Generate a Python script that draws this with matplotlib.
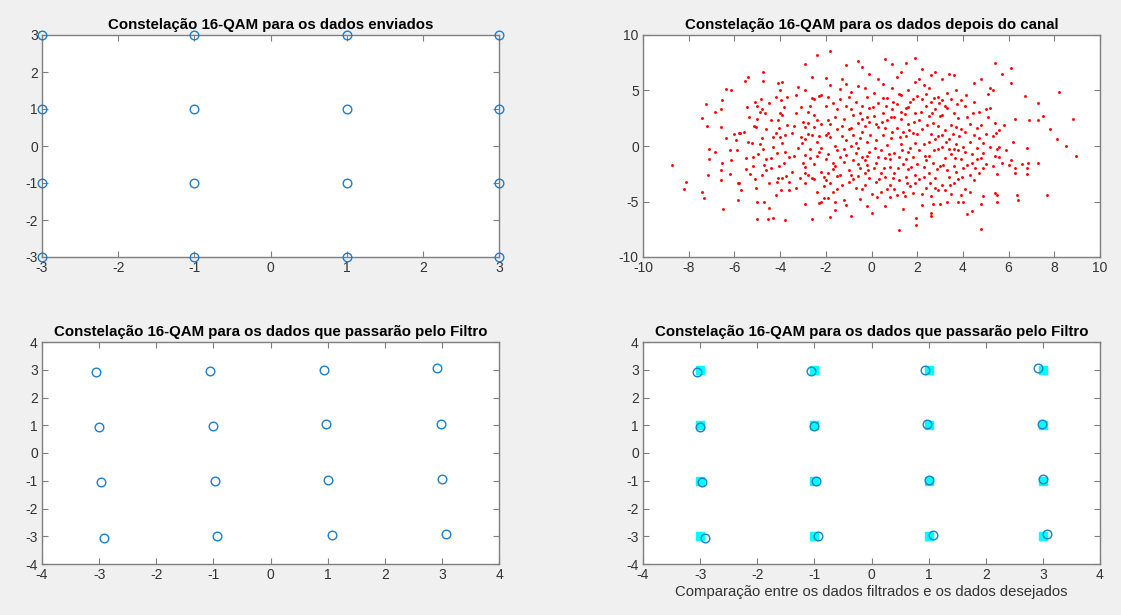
import matplotlib
matplotlib.use("Agg")
import matplotlib.pyplot as plt
import numpy as np

plt.rcParams['font.family'] = ['Liberation Sans', 'DejaVu Sans']
plt.rcParams['axes.unicode_minus'] = False

# ---------------- data ----------------
ideal_x = [-3, -3, -3, -3, -1, -1, -1, -1, 1, 1, 1, 1, 3, 3, 3, 3]
ideal_y = [-3, -1, 1, 3, -3, -1, 1, 3, -3, -1, 1, 3, -3, -1, 1, 3]

filt_x = [-3.06, -1.06, 0.93, 2.92, -3.01, -1.01, 0.98, 2.98,
          -2.97, -0.98, 1.01, 3.01, -2.92, -0.93, 1.07, 3.07]
filt_y = [2.93, 2.96, 3.00, 3.08, 0.92, 0.99, 1.03, 1.06,
          -1.06, -1.02, -0.99, -0.92, -3.07, -3.00, -2.97, -2.93]

channel_pts = [
    (-8.75, -1.7), (-8.1, -3.2), (-8.2, -3.9), (-7.4, -4.1), (-7.35, -4.7), (-7.4, 2.5), (-7.25, 3.8),
    (-7.2, 1.8), (-7.1, -0.3), (-7.1, -1.2), (-7.15, -2.6), (-6.85, 3.1), (-6.85, -0.5), (-6.6, 1.7),
    (-6.6, 3.3), (-6.55, 4.1), (-6.55, -1.5), (-6.6, -2.2), (-6.6, -3.1), (-6.5, -5.7), (-6.35, 5.1),
    (-6.35, 0.7), (-6.15, 5.0), (-6.2, -0.4), (-6.15, -1.3), (-6.2, -2.5), (-6.0, 1.1), (-5.95, 0.5),
    (-5.9, -0.4), (-5.85, -3.3), (-5.8, -3.3), (-5.8, 1.2), (-5.75, 1.2), (-5.85, -4.9), (-5.7, -4.0),
    (-5.55, 5.9), (-5.5, -2.1), (-5.45, 3.5), (-5.4, 6.2), (-5.35, 2.6), (-5.3, -2.5), (-5.25, 0.3),
    (-5.2, -1.8), (-5.15, 1.8), (-5.1, -3.0), (-5.1, 4.0), (-5.05, 1.7), (-5.05, -3.8), (-5.0, -5.0),
    (-5.0, -6.6), (-5.0, 2.4), (-4.95, -0.7), (-4.9, 3.1), (-4.85, 4.2), (-4.8, 3.3), (-4.8, 0.7),
    (-4.75, 6.7), (-4.75, 5.9), (-4.7, -1.7), (-4.7, -5.0), (-4.65, 3.0), (-4.6, -1.2), (-4.6, -2.2),
    (-4.55, -6.6), (-4.5, 3.9), (-4.5, -5.6), (-4.4, 2.3), (-4.3, -0.1), (-4.3, -6.5), (-4.2, -4.4),
    (-4.1, 5.7), (-4.0, 5.0), (-3.95, 4.1), (-3.9, 5.8), (-3.8, -6.7), (-3.5, -2.3),
    (-4.4, -2.0), (-4.2, 1.2), (-4.1, -2.9), (-4.0, 3.0), (-4.2, 4.4), (-4.3, 0.8), (-4.5, -3.3),
    (-4.6, 1.5), (-4.8, -2.6), (-4.9, 0.2), (-5.2, -1.0), (-5.4, 0.4), (-5.6, 1.3), (-5.5, -1.1),
    (-4.4, -1.1), (-4.15, -0.6), (-4.05, 1.6), (-5.0, 3.6), (-4.75, -0.3),
    (-3.85, 3.5), (-3.9, 2.8), (-3.7, 1.9), (-3.8, 1.0), (-3.9, 0.3), (-3.8, -0.5), (-3.85, -1.5),
    (-3.75, -2.7), (-3.6, -3.2), (-3.6, -4.0), (-3.4, -0.9), (-3.4, 1.8), (-3.3, 4.6), (-3.2, 5.3),
    (-3.15, -2.9), (-3.1, 0.8), (-3.05, 0.3), (-3.0, -1.5), (-3.1, 3.5), (-3.0, 2.2), (-3.3, -3.8),
    (-3.5, 1.2), (-3.6, -1.0), (-3.2, -0.2), (-3.9, -2.9), (-3.7, 4.4), (-4.0, 0.8), (-4.05, -1.8),
    (-4.1, 2.3), (-4.15, -3.2), (-3.95, -4.0), (-3.3, 3.0),
    (-2.9, 7.4), (-2.9, 5.0), (-2.8, 3.1), (-2.8, 1.1), (-2.9, 0.6), (-2.7, -0.3), (-2.9, -1.9),
    (-2.8, -2.6), (-2.9, -3.3), (-2.9, -5.2), (-2.6, -6.6), (-2.6, 6.2), (-2.5, 4.2), (-2.5, 2.8),
    (-2.5, 1.7), (-2.4, 0.4), (-2.4, -0.9), (-2.5, -1.6), (-2.5, -3.0), (-2.4, -4.1), (-2.3, -5.1),
    (-2.4, 8.2), (-2.3, 4.5), (-2.2, 2.0), (-2.2, -0.2), (-2.2, -2.3), (-2.1, -3.6), (-2.1, -4.7),
    (-2.0, 6.1), (-2.0, 3.6), (-2.0, 1.0), (-2.0, -1.2), (-2.1, -2.8), (-2.6, 1.0), (-2.7, -1.1),
    (-2.3, -0.5), (-2.9, -0.8), (-2.6, -2.9), (-2.3, 0.9), (-2.7, 3.6), (-2.8, 2.1), (-2.2, 4.6),
    (-2.4, 2.3), (-2.9, -2.4), (-2.2, -5.0), (-2.0, -3.1), (-2.9, 1.7), (-2.6, 4.3),
    (-1.8, 8.6), (-1.9, 4.4), (-1.8, 2.0), (-1.8, 0.8), (-1.7, -1.5), (-1.7, -2.1), (-1.8, -3.3),
    (-1.8, -6.4), (-1.6, -5.0), (-1.6, -5.8), (-1.6, 2.6), (-1.5, 3.3), (-1.5, 1.5), (-1.5, -0.4),
    (-1.4, -2.6), (-1.4, 4.2), (-1.3, 6.0), (-1.3, 1.8), (-1.2, -0.3), (-1.2, -1.4), (-1.2, -4.9),
    (-1.1, 7.3), (-1.1, 5.6), (-1.1, 3.6), (-1.1, 0.5), (-1.0, -2.2), (-1.0, -3.2), (-1.9, -0.7),
    (-1.9, 2.3), (-1.7, -4.1), (-1.6, 0.0), (-1.4, -1.0), (-1.3, -3.5), (-1.2, 2.4), (-1.9, 1.2),
    (-1.5, -2.7), (-1.7, 3.9), (-1.1, -0.8), (-1.3, 0.9), (-1.6, -1.8), (-1.9, -2.4), (-1.0, 1.5),
    (-1.0, 4.4), (-1.4, 5.1), (-1.8, 5.5), (-1.5, -3.9), (-1.1, -5.3), (-1.9, -4.7),
    (-0.9, -6.3), (-0.9, 4.9), (-0.9, 3.3), (-0.8, 1.0), (-0.8, -1.3), (-0.7, -3.8), (-0.6, 7.7),
    (-0.6, 5.4), (-0.6, 2.1), (-0.6, -0.2), (-0.5, -2.0), (-0.5, -4.8), (-0.4, 7.1), (-0.4, 3.6),
    (-0.4, 1.3), (-0.4, -1.0), (-0.3, -2.4), (-0.3, -3.5), (-0.2, 4.4), (-0.2, 2.6), (-0.2, 0.4),
    (-0.2, -1.7), (-0.2, -5.4), (-0.1, 6.5), (-0.1, -2.9), (0.0, -6.0), (0.0, -4.3), (-0.8, 2.8),
    (-0.7, 0.3), (-0.9, -2.6), (-0.5, 3.0), (-0.3, 1.8), (-0.1, -0.5), (-0.6, -1.6), (-0.8, -3.0),
    (-0.4, -3.9), (-0.1, 2.2), (-0.7, 4.0), (-0.3, 5.2), (-0.9, 0.0), (-0.5, 0.7), (-0.2, -0.9),
    (-0.1, 3.4), (-0.6, -2.7), (-0.9, 1.6), (-0.3, -1.3), (-0.05, 1.0), (-0.4, 2.4), (-0.7, -0.6),
    (-0.15, -2.2),
    (0.1, 4.8), (0.1, 2.7), (0.2, 0.5), (0.2, -1.5), (0.2, -3.2), (0.3, 6.0), (0.3, 3.9), (0.3, 1.7),
    (0.4, -0.4), (0.4, -2.4), (0.4, -4.1), (0.5, 5.6), (0.5, 3.0), (0.5, 1.0), (0.6, -1.1), (0.6, -2.8),
    (0.6, 7.8), (0.6, -5.4), (0.7, 4.3), (0.7, 2.3), (0.7, 0.1), (0.8, -1.9), (0.8, -3.5), (0.8, -4.6),
    (0.9, 7.4), (0.9, 5.2), (0.9, 3.3), (0.9, 1.3), (1.0, -0.6), (1.0, -2.4), (1.0, -3.9), (0.15, -0.2),
    (0.3, -1.0), (0.45, 2.2), (0.55, -2.0), (0.65, 3.6), (0.75, -0.7), (0.85, 0.7), (0.95, -2.9),
    (0.2, 2.0), (0.35, -3.0), (0.5, 4.3), (0.7, -3.9), (0.85, 2.6), (0.1, -2.0), (0.95, 4.0),
    (0.25, -4.6), (0.6, 1.6), (0.8, -1.2), (0.05, 3.5),
    (1.1, 6.2), (1.1, 3.8), (1.1, 1.6), (1.2, -1.0), (1.2, -3.1), (1.2, -7.6), (1.3, 6.7), (1.3, 4.6),
    (1.3, 2.4), (1.3, 0.2), (1.4, -1.6), (1.4, -4.1), (1.4, -5.7), (1.5, 7.5), (1.5, 3.4), (1.5, 0.9),
    (1.5, -2.8), (1.6, 5.0), (1.6, 2.0), (1.6, -0.5), (1.6, -2.1), (1.7, -3.6), (1.7, 4.0), (1.8, 1.2),
    (1.8, -1.0), (1.8, -4.2), (1.9, 7.9), (1.9, 5.8), (1.9, 3.0), (1.9, 0.3), (1.9, -2.6), (1.95, -6.5),
    (1.95, -7.1), (2.0, 4.5), (2.0, -1.6), (1.15, -2.0), (1.25, 0.8), (1.35, -0.4), (1.45, 2.9),
    (1.55, -3.3), (1.65, 1.4), (1.75, -1.9), (1.85, 2.2), (1.1, -4.4), (1.45, -4.5), (1.7, -0.2),
    (1.3, 3.1), (1.6, 3.5), (1.9, -3.3), (1.2, 4.7), (1.4, 1.3), (1.8, 4.2), (1.5, -1.2), (1.0, 2.6),
    (2.1, 6.0), (2.1, 2.3), (2.1, -0.4), (2.1, -3.0), (2.2, 6.9), (2.2, 4.2), (2.2, 1.5), (2.2, -4.3),
    (2.3, 0.2), (2.3, -1.9), (2.4, 3.6), (2.4, -3.8), (2.5, 5.2), (2.5, 2.7), (2.5, -0.9), (2.5, -2.4),
    (2.6, 6.4), (2.6, 4.0), (2.6, 1.1), (2.6, -6.3), (2.6, -6.0), (2.7, -1.5), (2.7, -5.2), (2.8, 6.7),
    (2.8, 3.3), (2.8, 0.6), (2.8, -2.9), (2.9, 4.4), (2.9, 1.8), (2.9, -0.3), (2.9, -4.0), (3.0, -5.2),
    (3.0, 2.7), (3.0, -1.8), (2.15, 3.1), (2.35, -0.9), (2.45, 1.9), (2.55, -3.3), (2.65, 3.0),
    (2.75, -0.4), (2.85, -2.1), (2.95, 3.9), (2.3, -2.8), (2.4, 4.7), (2.7, 2.1), (2.2, -5.3),
    (2.6, -4.5), (2.9, 0.9), (2.5, 0.4), (2.0, 1.1), (2.8, -3.8), (2.4, -1.3), (2.3, 5.5), (2.75, 4.3),
    (3.1, 6.0), (3.1, 4.1), (3.1, 2.8), (3.1, -0.1), (3.1, -3.5), (3.2, 1.4), (3.2, -1.1), (3.2, -4.0),
    (3.3, 3.4), (3.3, -2.2), (3.3, -5.0), (3.4, 6.5), (3.4, 0.6), (3.4, -2.8), (3.5, 4.2), (3.5, 1.9),
    (3.5, -0.7), (3.6, 6.4), (3.6, 3.0), (3.6, -1.8), (3.6, -3.3), (3.7, 5.0), (3.7, 0.2), (3.7, -2.3),
    (3.8, 2.5), (3.8, -0.4), (3.8, -5.0), (3.9, 4.1), (3.9, 1.5), (3.9, -1.2), (3.9, -4.4), (4.0, -0.1),
    (4.0, -2.0), (4.0, -5.0), (3.15, -1.7), (3.25, 0.4), (3.45, -3.5), (3.55, 1.1), (3.65, -1.1),
    (3.75, 3.8), (3.85, 0.9), (3.95, -2.8), (3.3, 4.8), (3.5, -4.3), (3.1, 1.0), (3.7, 1.7),
    (3.4, -0.3), (3.8, -3.0), (3.2, 3.6), (3.6, -0.3),
    (4.1, 3.6), (4.1, 1.3), (4.1, -0.5), (4.1, -3.9), (4.2, -6.1), (4.2, -1.7), (4.3, 2.0), (4.3, 0.4),
    (4.3, -2.6), (4.4, -5.9), (4.4, -0.7), (4.5, 5.7), (4.5, 4.0), (4.5, 1.0), (4.5, -3.1), (4.6, -0.2),
    (4.6, -1.2), (4.7, 3.1), (4.7, -2.4), (4.8, 6.0), (4.8, 1.9), (4.8, -5.2), (4.8, -7.5), (4.9, -0.6),
    (4.9, -2.0), (4.9, -4.5), (5.0, 3.3), (5.0, 1.1), (5.0, -1.6), (4.2, 2.6), (4.4, -1.5), (4.6, 1.6),
    (4.8, -1.1), (4.3, -4.1), (4.7, 0.7), (4.15, 4.6), (4.55, -2.0), (4.9, 0.3), (4.45, 3.0),
    (5.1, 4.7), (5.2, 5.2), (5.1, 2.6), (5.2, -0.1), (5.3, 5.0), (5.3, -1.8), (5.4, 7.5), (5.4, 2.1),
    (5.4, -4.2), (5.45, 1.2), (5.5, -2.5), (5.5, -4.4), (5.5, -5.0), (5.6, -0.1), (5.6, 1.4),
    (5.6, -1.0), (5.7, 6.5), (5.8, 1.9), (5.3, 0.9), (5.7, -1.5), (5.5, -0.3), (5.9, -0.4),
    (5.2, 3.4), (5.4, -0.9),
    (6.1, 7.0), (6.1, 5.7), (6.2, 0.4), (6.1, -1.3), (6.0, -1.7), (6.3, -2.0), (6.3, -2.4), (6.3, 2.4),
    (6.35, -4.4), (6.4, -4.9), (6.6, -1.6), (6.7, 4.5), (6.8, -2.0), (6.8, -2.5), (6.8, -0.2),
    (6.9, 2.3), (6.85, -1.5), (7.3, 2.3), (7.3, 3.9), (7.3, -1.5), (7.5, 2.7), (7.7, -4.4), (7.8, 1.5),
    (8.1, 0.6), (8.2, 4.9), (8.5, 0.0), (8.8, 2.4), (8.95, -0.9),
]
chan_x = [p[0] for p in channel_pts]
chan_y = [p[1] for p in channel_pts]

# ---------------- styling ----------------
BG = '#f0f0f0'
AX_COL = '#7f7f7f'
TXT = '#333333'
BLUE = '#1a7fcc'

fig = plt.figure(figsize=(11.21, 6.15), dpi=100, facecolor=BG)

W, H = 1121, 615
def ax_at(l, t, r, b):
    return fig.add_axes([l / W, 1 - b / H, (r - l) / W, (b - t) / H])

def style(ax, title):
    ax.set_facecolor('white')
    for s in ax.spines.values():
        s.set_color(AX_COL)
        s.set_linewidth(1.0)
    ax.tick_params(direction='in', top=True, right=True, length=4, width=0.8,
                   color=AX_COL, labelcolor=TXT, labelsize=10, pad=3)
    ax.set_title(title, fontsize=10.8, fontweight='bold', color='black', pad=4)

ax1 = ax_at(42, 35, 499, 257)
ax2 = ax_at(643, 35, 1100, 257)
ax3 = ax_at(42, 342, 499, 564)
ax4 = ax_at(643, 342, 1100, 564)

# top-left
ax1.plot(ideal_x, ideal_y, 'o', mfc='none', mec=BLUE, ms=6.2, mew=1.0, clip_on=False, zorder=5)
ax1.set_xlim(-3, 3); ax1.set_ylim(-3, 3)
ax1.set_xticks(range(-3, 4)); ax1.set_yticks(range(-3, 4))
style(ax1, 'Constelação 16-QAM para os dados enviados')

# top-right
ax2.plot(chan_x, chan_y, '.', color='red', ms=4.2, mew=0, zorder=3)
ax2.set_xlim(-10, 10); ax2.set_ylim(-10, 10)
ax2.set_xticks(range(-10, 11, 2)); ax2.set_yticks(range(-10, 11, 5))
style(ax2, 'Constelação 16-QAM para os dados depois do canal')

# bottom-left
ax3.plot(filt_x, filt_y, 'o', mfc='none', mec=BLUE, ms=6.2, mew=1.0, zorder=5)
ax3.set_xlim(-4, 4); ax3.set_ylim(-4, 4)
ax3.set_xticks(range(-4, 5)); ax3.set_yticks(range(-4, 5))
style(ax3, 'Constelação 16-QAM para os dados que passarão pelo Filtro')

# bottom-right
ax4.plot(ideal_x, ideal_y, 's', color='cyan', mec='cyan', ms=6, zorder=3)
ax4.plot(filt_x, filt_y, 'o', mfc='none', mec=BLUE, ms=6.2, mew=1.0, zorder=5)
ax4.set_xlim(-4, 4); ax4.set_ylim(-4, 4)
ax4.set_xticks(range(-4, 5)); ax4.set_yticks(range(-4, 5))
style(ax4, 'Constelação 16-QAM para os dados que passarão pelo Filtro')
ax4.set_xlabel('Comparação entre os dados filtrados e os dados desejados',
               fontsize=10.7, color=TXT, labelpad=2)

fig.savefig('out.png', dpi=100, facecolor=BG)
